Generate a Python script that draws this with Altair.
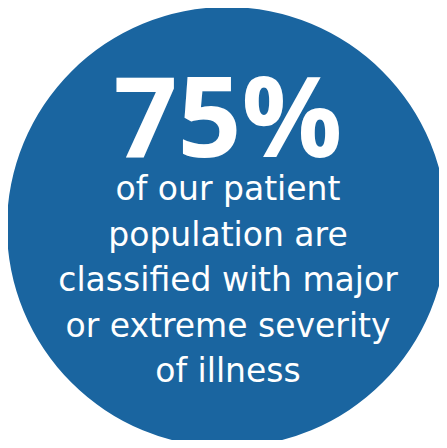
import altair as alt
import pandas as pd

headline = ["75%"]
body_lines = [
    "of our patient",
    "population are",
    "classified with major",
    "or extreme severity",
    "of illness",
]
share = [100]

W, H = 431, 432
BLUE = "#1a65a0"

circle = alt.Chart(pd.DataFrame({"share": share})).mark_arc(
    radius=220, color=BLUE, stroke=None
).encode(
    theta=alt.Theta("share:Q", scale=alt.Scale(domain=[0, 100])),
    x=alt.value(219),
    y=alt.value(219),
)

head = alt.Chart(pd.DataFrame({"t": headline, "i": [0]})).mark_text(
    font="Open Sans", fontWeight="bold", fontSize=112, color="white",
    align="center", baseline="alphabetic"
).encode(
    text="t:N",
    x=alt.value(220),
    y=alt.Y("i:Q", scale=alt.Scale(domain=[0, 1], range=[149, 192]), axis=None),
)

body = alt.Chart(pd.DataFrame({"t": body_lines, "i": list(range(len(body_lines)))})).mark_text(
    font="DejaVu Sans", fontSize=33, color="white",
    align="center", baseline="alphabetic"
).encode(
    text="t:N",
    x=alt.value(220),
    y=alt.Y("i:Q", scale=alt.Scale(domain=[0, 4], range=[192, 374]), axis=None),
)

chart = alt.layer(circle, head, body).resolve_scale(y="independent").properties(
    width=W, height=H, padding=0, autosize=alt.AutoSizeParams(type="none")
).configure_view(stroke=None)

chart.save("out.html", embed_options={"renderer": "svg", "actions": False})
